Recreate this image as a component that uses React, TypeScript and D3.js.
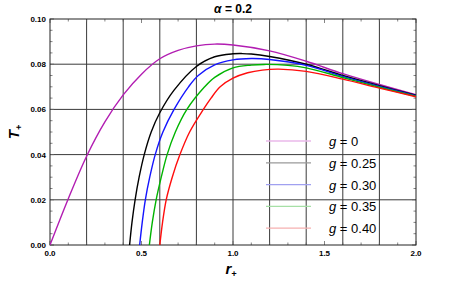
import * as d3 from 'd3'

const W = 457
const H = 286
const M = { left: 50, right: 41, top: 19, bottom: 41 }

// legend values of g
const gLabels = ['g = 0', 'g = 0.25', 'g = 0.30', 'g = 0.35', 'g = 0.40']
const curveColors = ['#b21db2', '#000000', '#1414ff', '#00b400', '#ff0d0d']
const legendColors = ['#eab8ea', '#9a9a9a', '#a0a0f0', '#a6e0a6', '#f6b0b0']

// r+ and T+, one pair of arrays per g
const rG0 = [0, 0.1, 0.2, 0.3, 0.4, 0.5, 0.6, 0.7, 0.8, 0.9, 1.0, 1.2, 1.4, 1.6, 1.8, 2.0]
const tG0 = [0, 0.0205, 0.0393, 0.0545, 0.0664, 0.0756, 0.0824, 0.0861, 0.0881, 0.0889, 0.0885, 0.0859, 0.0813, 0.0758, 0.071, 0.0665]

const rG25 = [0.435, 0.448, 0.465, 0.487, 0.515, 0.553, 0.6, 0.678, 0.8, 0.9, 1.0, 1.05, 1.1, 1.2, 1.4, 1.6, 1.8, 2.0]
const tG25 = [0, 0.01, 0.02, 0.03, 0.04, 0.05, 0.0585, 0.0685, 0.079, 0.0833, 0.0846, 0.0847, 0.0845, 0.0834, 0.08, 0.075, 0.0705, 0.0663]

const rG30 = [0.49, 0.504, 0.521, 0.545, 0.575, 0.617, 0.678, 0.757, 0.81, 0.9, 1.0, 1.1, 1.2, 1.4, 1.6, 1.8, 2.0]
const tG30 = [0, 0.01, 0.02, 0.03, 0.04, 0.05, 0.06, 0.07, 0.075, 0.0797, 0.0819, 0.0825, 0.0821, 0.0795, 0.0746, 0.0702, 0.0661]

const rG35 = [0.543, 0.559, 0.58, 0.608, 0.64, 0.685, 0.748, 0.845, 0.9, 1.0, 1.1, 1.17, 1.3, 1.4, 1.6, 1.8, 2.0]
const tG35 = [0, 0.01, 0.02, 0.03, 0.04, 0.05, 0.06, 0.07, 0.0742, 0.0784, 0.0796, 0.0799, 0.0795, 0.0784, 0.0741, 0.0698, 0.0658]

const rG40 = [0.6, 0.615, 0.635, 0.668, 0.71, 0.763, 0.838, 0.88, 0.93, 1.0, 1.08, 1.16, 1.25, 1.4, 1.6, 1.8, 2.0]
const tG40 = [0, 0.01, 0.02, 0.03, 0.04, 0.05, 0.06, 0.065, 0.07, 0.0738, 0.0762, 0.0774, 0.0778, 0.0768, 0.0734, 0.0694, 0.0656]

const xTicks = [0, 0.5, 1.0, 1.5, 2.0]
const yTicks = [0, 0.02, 0.04, 0.06, 0.08, 0.1]

const series = [
  { r: rG0, t: tG0 },
  { r: rG25, t: tG25 },
  { r: rG30, t: tG30 },
  { r: rG35, t: tG35 },
  { r: rG40, t: tG40 },
]

export default function App() {
  const x = d3.scaleLinear().domain([0, 2]).range([M.left, W - M.right])
  const y = d3.scaleLinear().domain([0, 0.1]).range([H - M.bottom, M.top])
  const x0 = M.left, x1 = W - M.right, y0 = H - M.bottom, y1 = M.top

  const line = d3.line<[number, number]>()
    .x(d => x(d[0]))
    .y(d => y(d[1]))
    .curve(d3.curveCatmullRom.alpha(0.5))

  const gridX = d3.range(0.2, 2.0, 0.2)
  const gridY = d3.range(0.02, 0.1, 0.02)
  const minorX = d3.range(0, 2.0001, 0.1)
  const minorY = d3.range(0, 0.1001, 0.005)

  const font = '"Liberation Sans", Arial, sans-serif'
  const legendRowY = (i: number) => 141 + i * 21.8

  return (
    <svg width={W} height={H} style={{ position: 'absolute', left: 0, top: 0, background: '#fff' }}>
      <defs>
        <clipPath id="plot">
          <rect x={x0} y={y1} width={x1 - x0} height={y0 - y1} />
        </clipPath>
      </defs>
      {/* grid */}
      {gridX.map((v, i) => (
        <line key={'gx' + i} x1={x(v)} x2={x(v)} y1={y1} y2={y0} stroke="#3a3a3a" strokeWidth={1} />
      ))}
      {gridY.map((v, i) => (
        <line key={'gy' + i} x1={x0} x2={x1} y1={y(v)} y2={y(v)} stroke="#3a3a3a" strokeWidth={1} />
      ))}
      {/* minor ticks */}
      {minorX.map((v, i) => {
        const len = Math.abs(v * 2 - Math.round(v * 2)) < 1e-6 ? 4 : 2.5
        return (
          <g key={'mx' + i}>
            <line x1={x(v)} x2={x(v)} y1={y0} y2={y0 - len} stroke="#666" strokeWidth={0.8} />
            <line x1={x(v)} x2={x(v)} y1={y1} y2={y1 + len} stroke="#666" strokeWidth={0.8} />
          </g>
        )
      })}
      {minorY.map((v, i) => {
        const len = Math.abs(v * 50 - Math.round(v * 50)) < 1e-6 ? 4 : 2.5
        return (
          <g key={'my' + i}>
            <line x1={x0} x2={x0 + len} y1={y(v)} y2={y(v)} stroke="#666" strokeWidth={0.8} />
            <line x1={x1} x2={x1 - len} y1={y(v)} y2={y(v)} stroke="#666" strokeWidth={0.8} />
          </g>
        )
      })}
      {/* frame */}
      <rect x={x0} y={y1} width={x1 - x0} height={y0 - y1} fill="none" stroke="#222" strokeWidth={1} />

      {/* curves */}
      <g clipPath="url(#plot)">
        {series.map((s, i) => (
          <path
            key={'c' + i}
            d={line(s.r.map((r, j) => [r, s.t[j]] as [number, number])) || ''}
            fill="none"
            stroke={curveColors[i]}
            strokeWidth={1.4}
          />
        ))}
      </g>

      {/* tick labels */}
      {xTicks.map((v, i) => (
        <text key={'xt' + i} x={x(v)} y={y0 + 11} textAnchor="middle" fontFamily={font} fontWeight="bold" fontSize={8}>
          {d3.format('.1f')(v)}
        </text>
      ))}
      {yTicks.map((v, i) => (
        <text key={'yt' + i} x={x0 - 4} y={y(v) + 3} textAnchor="end" fontFamily={font} fontWeight="bold" fontSize={8}>
          {d3.format('.2f')(v)}
        </text>
      ))}

      {/* title and axis labels */}
      <text x={233} y={13} textAnchor="middle" fontFamily={font} fontWeight="bold" fontSize={12}>
        <tspan fontStyle="italic">α</tspan> = 0.2
      </text>
      <text transform="translate(19,132) rotate(-90)" textAnchor="middle" fontFamily={font} fontWeight="bold" fontStyle="italic" fontSize={15}>
        T<tspan fontSize={9} dy={3}>+</tspan>
      </text>
      <text x={231} y={274} textAnchor="middle" fontFamily={font} fontWeight="bold" fontStyle="italic" fontSize={15}>
        r<tspan fontSize={9} dy={3}>+</tspan>
      </text>

      {/* legend */}
      {gLabels.map((lab, i) => (
        <g key={'lg' + i}>
          <line x1={266} x2={311} y1={legendRowY(i)} y2={legendRowY(i)} stroke={legendColors[i]} strokeWidth={1.3} />
          <text x={329} y={legendRowY(i) + 5} fontFamily={font} fontSize={13}>
            <tspan fontStyle="italic">g</tspan>{lab.slice(1)}
          </text>
        </g>
      ))}
    </svg>
  )
}
